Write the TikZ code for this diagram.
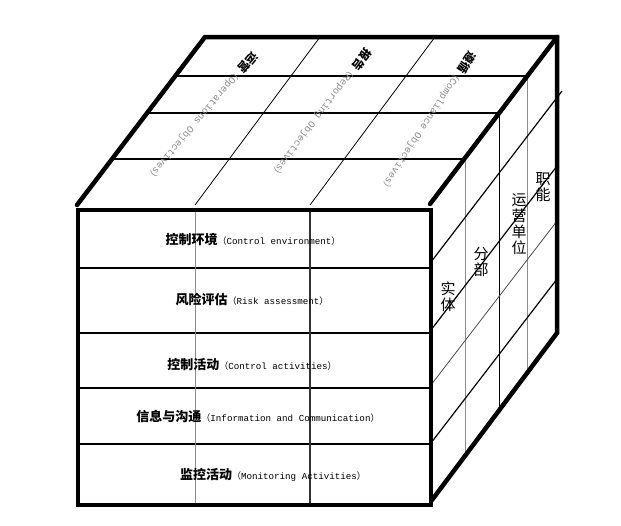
\documentclass[tikz,border=0pt]{standalone}
\usepackage{fontspec}
\newfontfamily\cjk{Noto Sans CJK SC}
\newfontfamily\mono{Liberation Mono}
\tikzset{
  thick edge/.style={line width=4.5pt, line cap=round, line join=miter},
  grid dark/.style={line width=1.2pt, black},
  grid thin/.style={line width=0.8pt, black},
  grid gray/.style={line width=1pt, black!45},
  frontlabel/.style={inner sep=0pt, anchor=center},
  toplabel/.style={inner sep=0pt, anchor=center},
  sidelabel/.style={inner sep=0pt, anchor=center, align=center, font=\cjk\fontsize{15}{16}\selectfont}
}
\newcommand{\fl}[2]{{\cjk\bfseries\fontsize{13}{14}\selectfont #1}{\cjk\fontsize{9}{10}\selectfont（}{\mono\fontsize{9.2}{10}\selectfont #2}{\cjk\fontsize{9}{10}\selectfont）}}
\newcommand{\tl}[2]{{\cjk\bfseries\fontsize{11.5}{12}\selectfont #1}{\color{black!45}\cjk\fontsize{9.5}{10}\selectfont（}{\color{black!45}\mono\fontsize{9.8}{10}\selectfont #2}{\color{black!45}\cjk\fontsize{9.5}{10}\selectfont）}}
\begin{document}
\begin{tikzpicture}[x=1pt,y=-1pt]
\useasboundingbox (0,0) rectangle (621,525);
\fill[white] (0,0) rectangle (621,525);
% ---------- top face thin lines
\draw[grid dark] (175.3,76) -- (527.5,76);
\draw[grid dark] (147,113) -- (499.5,113);
\draw[grid dark] (112,159) -- (465,159);
\draw[grid thin] (320,37) -- (195,205);
\draw[grid thin] (435,37) -- (310,205);
% ---------- front face thin lines
\foreach \y in {268,333,388,444} \draw[grid dark] (78,\y) -- (431,\y);
\draw[grid gray] (195,210) -- (195,505);
\draw[grid dark, black!80] (310,210) -- (310,505);
% ---------- right face thin lines
\draw[grid gray] (465,159) -- (465,456);
\draw[grid dark] (499.5,113) -- (499.5,410);
\draw[grid gray] (527.5,76) -- (527.5,372);
\draw[grid dark] (431,262) -- (562,91);
\draw[grid dark] (431,330) -- (557,166);
\draw[grid thin, black!70] (431,385) -- (557,221);
\draw[grid dark] (431,443) -- (557,279);
% ---------- thick edges
\draw[thick edge] (77,205) -- (205,37) -- (557,37) -- (557,333) -- (432,500);
\draw[thick edge] (557,37) -- (430,204);
\draw[line width=4.5pt, line join=miter] (78,210) rectangle (431,505);
% ---------- front labels
\node[frontlabel] (f1) at (253,240) {\fl{控制环境}{Control environment}};
\node[frontlabel] (f2) at (252,300) {\fl{风险评估}{Risk assessment}};
\node[frontlabel] (f3) at (252,365) {\fl{控制活动}{Control activities}};
\node[frontlabel] (f4) at (258,417) {\fl{信息与沟通}{Information and Communication}};
\node[frontlabel] (f5) at (273,475) {\fl{监控活动}{Monitoring Activities}};
% ---------- top labels
\node[toplabel, rotate=-130] (t1) at (202,117) {\tl{运营}{Operations Objectives}};
\node[toplabel, rotate=-127] (t2) at (321,114) {\tl{报告}{Reporting Objectives}};
\node[toplabel, rotate=-123] (t3) at (428,122) {\tl{遵循}{Compliance Objectives}};
% ---------- side labels
\node[sidelabel] (s1) at (448,297) {实\\体};
\node[sidelabel] (s2) at (481,262) {分\\部};
\node[sidelabel] (s3) at (519,224) {运\\营\\单\\位};
\node[sidelabel] (s4) at (543,187) {职\\能};
\end{tikzpicture}
\end{document}
